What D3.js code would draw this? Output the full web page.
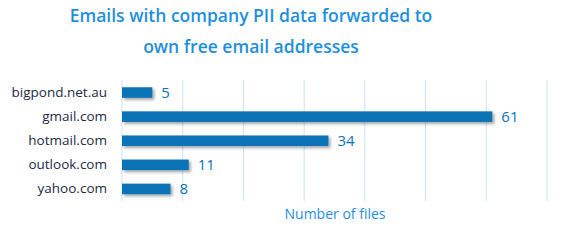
<!DOCTYPE html>
<html>
<head>
<meta charset="utf-8">
<script src="https://cdn.jsdelivr.net/npm/d3@7"></script>
<style>
  body { margin: 0; background: #fff; }
  text { font-family: "Open Sans", sans-serif; }
</style>
</head>
<body>
<script>
var domains = ["bigpond.net.au", "gmail.com", "hotmail.com", "outlook.com", "yahoo.com"];
var files = [5, 61, 34, 11, 8];
var xTicks = [0, 10, 20, 30, 40, 50, 60, 70];

var config = {
    width: 586,
    height: 240,
    left: 122,
    right: 547,
    top: 80,
    bottom: 201
}

var data = domains.map(function(d, i) { return {name: d, value: files[i]}; });

var svg = d3.select("body").append("svg")
    .attr("width", config.width)
    .attr("height", config.height)

var defs = svg.append("defs");
var f = defs.append("filter").attr("id", "shadow")
    .attr("x", "-5%").attr("y", "-50%").attr("width", "115%").attr("height", "250%");
f.append("feDropShadow")
    .attr("dx", 2).attr("dy", 2).attr("stdDeviation", 1.5)
    .attr("flood-color", "#000").attr("flood-opacity", 0.35);

var x = d3.scaleLinear().domain([0, 70]).range([config.left, config.right]);
var y = d3.scaleBand().domain(domains)
    .range([config.top + 0.5, config.bottom])
    .paddingInner(0.56)
    .paddingOuter(0.28);

// grid
svg.append("g").selectAll("line")
    .data(xTicks)
    .enter().append("line")
    .attr("x1", function(d) { return x(d); })
    .attr("x2", function(d) { return x(d); })
    .attr("y1", config.top)
    .attr("y2", config.bottom)
    .attr("stroke", "#c9e3f7")
    .attr("stroke-width", 1);

// bars
svg.append("g").selectAll("rect")
    .data(data)
    .enter().append("rect")
    .attr("x", x(0))
    .attr("y", function(d) { return y(d.name); })
    .attr("width", function(d) { return x(d.value) - x(0); })
    .attr("height", y.bandwidth())
    .attr("fill", "#0e73b7")
    .attr("filter", "url(#shadow)");

// value labels
svg.append("g").selectAll("text")
    .data(data)
    .enter().append("text")
    .attr("x", function(d) { return x(d.value) + 9; })
    .attr("y", function(d) { return y(d.name) + y.bandwidth() / 2; })
    .attr("dy", "0.36em")
    .attr("fill", "#0e73b7")
    .style("font-size", "15px")
    .text(function(d) { return d.value; });

// category axis
var yAxis = svg.append("g")
    .attr("transform", "translate(" + (config.left - 15) + ",0)")
    .call(d3.axisLeft(y).tickSize(0).tickPadding(0));
yAxis.select(".domain").remove();
yAxis.selectAll("text")
    .attr("fill", "#1b2a48")
    .style("font-size", "13.5px")
    .style("font-family", "'Open Sans', sans-serif");

// axis title
svg.append("text")
    .attr("x", 335)
    .attr("y", 219)
    .attr("text-anchor", "middle")
    .attr("fill", "#1e8fde")
    .style("font-size", "14px")
    .text("Number of files");

// title
var title = svg.append("text")
    .attr("text-anchor", "middle")
    .attr("fill", "#1e8fde")
    .style("font-size", "17.5px")
    .style("font-weight", "600");
title.append("tspan").attr("x", 251).attr("y", 22).text("Emails with company PII data forwarded to");
title.append("tspan").attr("x", 251).attr("y", 53).text("own free email addresses");
</script>
</body>
</html>
